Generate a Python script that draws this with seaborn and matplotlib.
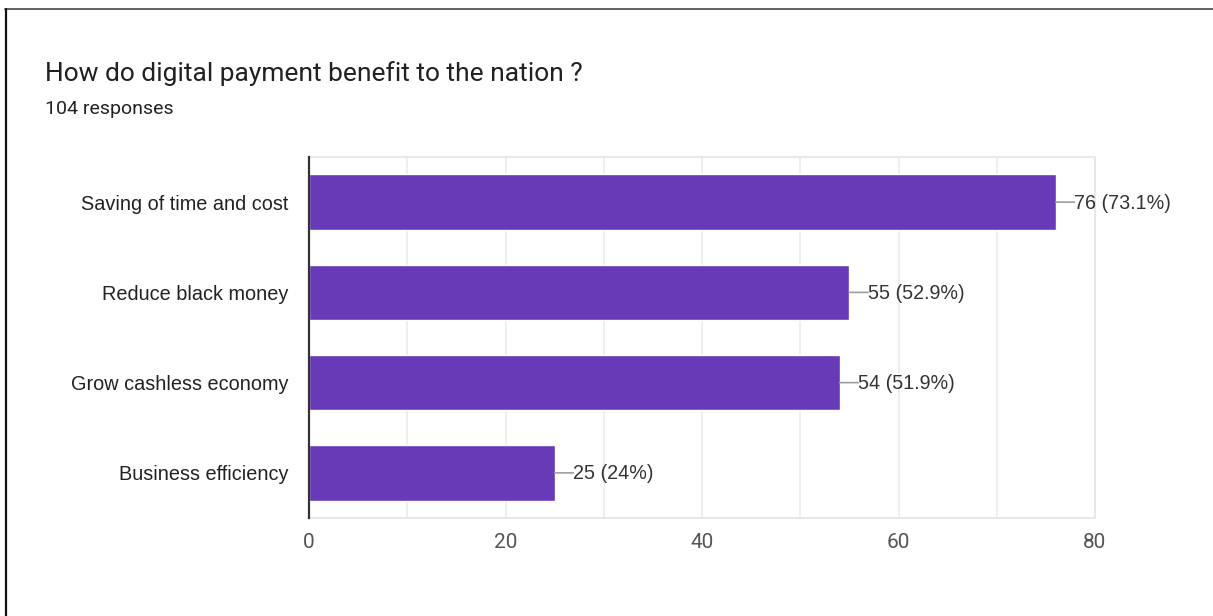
import numpy as np
import pandas as pd
import matplotlib.pyplot as plt
import seaborn as sns
from matplotlib.lines import Line2D

TITLE = "How do digital payment benefit to the nation ?"
SUBTITLE = "104 responses"
CATEGORIES = ["Saving of time and cost", "Reduce black money",
              "Grow cashless economy", "Business efficiency"]
COUNTS = [76, 55, 54, 25]
PERCENTS = ["73.1%", "52.9%", "51.9%", "24%"]
X_TICKS = [0, 20, 40, 60, 80]

BAR_COLOR = "#673ab7"
LABEL_FONT = ["Liberation Sans", "DejaVu Sans"]

sns.set_theme(style="white")
plt.rcParams["font.family"] = ["Roboto", "DejaVu Sans"]

df = pd.DataFrame({"category": CATEGORIES, "count": COUNTS, "pct": PERCENTS})

fig = plt.figure(figsize=(12.13, 6.16), dpi=100)
ax = fig.add_axes([309 / 1213, 98 / 616, 786 / 1213, 361 / 616])

sns.barplot(data=df, x="count", y="category", orient="h", color=BAR_COLOR,
            saturation=1, width=0.615, ax=ax, zorder=3)

ax.set_xlim(0, 80)
ax.set_ylim(3.5, -0.5)
ax.set_xticks(X_TICKS)
ax.set_xticks(np.arange(10, 80, 20), minor=True)
ax.grid(True, axis="x", which="both", color="#ebebeb", linewidth=1.2, zorder=0)
ax.set_xlabel("")
ax.set_ylabel("")

for side in ["top", "right", "bottom"]:
    ax.spines[side].set_color("#e8e8e8")
    ax.spines[side].set_linewidth(1.5)
ax.spines["left"].set_color("#333333")
ax.spines["left"].set_linewidth(1.6)
ax.spines["left"].set_zorder(5)

ax.tick_params(axis="x", which="both", length=0, pad=11, labelsize=15,
               labelcolor="#555555")
ax.tick_params(axis="y", length=0, pad=15, labelsize=14.3, labelcolor="#222222")
for lbl in ax.get_yticklabels():
    lbl.set_family(LABEL_FONT)

# value labels with short leader lines
for i, row in df.iterrows():
    ax.annotate("", xy=(row["count"], i), xytext=(row["count"] + 1.9, i),
                arrowprops=dict(arrowstyle="-", color="#9e9e9e", lw=1.2,
                                shrinkA=0, shrinkB=0),
                annotation_clip=False)
    ax.text(row["count"] + 1.9, i + 0.01, f"{row['count']} ({row['pct']})",
            va="center", ha="left", fontsize=14.2, color="#333333",
            family=LABEL_FONT, clip_on=False)

fig.text(45 / 1213, 1 - 74 / 616, TITLE, fontsize=19, color="#212121",
         va="center", ha="left")
fig.text(45 / 1213, 1 - 109 / 616, SUBTITLE, fontsize=14, color="#212121",
         va="center", ha="left")

# page frame lines (top and left)
fig.add_artist(Line2D([5 / 1213, 1], [1 - 8.5 / 616] * 2, color="#555555",
                      lw=1.3, transform=fig.transFigure))
fig.add_artist(Line2D([5.5 / 1213] * 2, [0, 1 - 8.5 / 616], color="#111111",
                      lw=1.6, transform=fig.transFigure))

fig.savefig("out.png", dpi=100)
